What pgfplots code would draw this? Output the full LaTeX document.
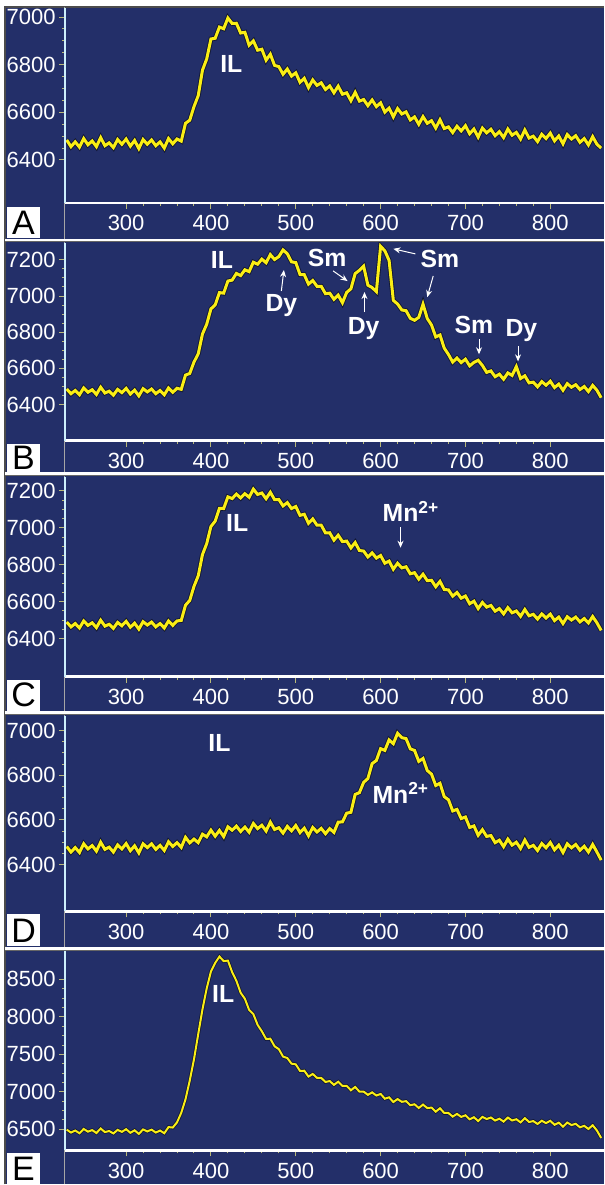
\documentclass[border=0pt]{standalone}
\usepackage{fontspec}
\setmainfont{Liberation Sans}
\usepackage{pgfplots}
\usepackage{pgfplotstable}
\pgfplotsset{compat=1.18}
\usetikzlibrary{arrows.meta}

\definecolor{navy}{RGB}{35,47,105}
\definecolor{trace}{RGB}{250,238,20}
\definecolor{tickcol}{RGB}{185,185,120}

% spectra, 5 nm steps
\pgfplotstableread[row sep=\\]{x y\\
230 6484\\ 235 6456\\ 240 6476\\ 245 6454\\ 250 6490\\ 255 6464\\ 260 6480\\ 265 6456\\ 270 6494\\ 275 6460\\
280 6472\\ 285 6452\\ 290 6486\\ 295 6466\\ 300 6488\\ 305 6458\\ 310 6482\\ 315 6448\\ 320 6486\\ 325 6466\\
330 6484\\ 335 6460\\ 340 6476\\ 345 6450\\ 350 6490\\ 355 6468\\ 360 6488\\ 365 6479\\ 370 6554\\ 375 6567\\
380 6624\\ 385 6670\\ 390 6777\\ 395 6824\\ 400 6908\\ 405 6911\\ 410 6958\\ 415 6951\\ 420 6996\\ 425 6973\\
430 6974\\ 435 6933\\ 440 6936\\ 445 6882\\ 450 6900\\ 455 6861\\ 460 6865\\ 465 6819\\ 470 6844\\ 475 6797\\
480 6792\\ 485 6760\\ 490 6782\\ 495 6752\\ 500 6766\\ 505 6726\\ 510 6743\\ 515 6704\\ 520 6736\\ 525 6713\\
530 6724\\ 535 6696\\ 540 6711\\ 545 6682\\ 550 6710\\ 555 6676\\ 560 6682\\ 565 6649\\ 570 6684\\ 575 6647\\
580 6654\\ 585 6628\\ 590 6652\\ 595 6624\\ 600 6640\\ 605 6601\\ 610 6618\\ 615 6581\\ 620 6616\\ 625 6593\\
630 6602\\ 635 6568\\ 640 6581\\ 645 6550\\ 650 6582\\ 655 6554\\ 660 6565\\ 665 6534\\ 670 6569\\ 675 6532\\
680 6539\\ 685 6515\\ 690 6542\\ 695 6522\\ 700 6544\\ 705 6510\\ 710 6530\\ 715 6496\\ 720 6534\\ 725 6514\\
730 6529\\ 735 6502\\ 740 6519\\ 745 6494\\ 750 6530\\ 755 6504\\ 760 6516\\ 765 6488\\ 770 6526\\ 775 6492\\
780 6500\\ 785 6477\\ 790 6508\\ 795 6490\\ 800 6513\\ 805 6480\\ 810 6501\\ 815 6468\\ 820 6507\\ 825 6488\\
830 6502\\ 835 6474\\ 840 6490\\ 845 6463\\ 850 6498\\ 855 6466\\ 860 6450\\
}\tabA

\pgfplotstableread[row sep=\\]{x y\\
230 6486\\ 235 6460\\ 240 6478\\ 245 6454\\ 250 6492\\ 255 6468\\ 260 6482\\ 265 6456\\ 270 6496\\ 275 6464\\
280 6474\\ 285 6452\\ 290 6484\\ 295 6466\\ 300 6490\\ 305 6458\\ 310 6480\\ 315 6448\\ 320 6488\\ 325 6470\\
330 6486\\ 335 6460\\ 340 6478\\ 345 6454\\ 350 6492\\ 355 6468\\ 360 6490\\ 365 6484\\ 370 6563\\ 375 6572\\
380 6635\\ 385 6680\\ 390 6790\\ 395 6844\\ 400 6929\\ 405 6951\\ 410 7019\\ 415 7016\\ 420 7083\\ 425 7088\\
430 7125\\ 435 7113\\ 440 7145\\ 445 7135\\ 450 7187\\ 455 7176\\ 460 7204\\ 465 7184\\ 470 7229\\ 475 7202\\
480 7218\\ 485 7255\\ 490 7234\\ 495 7189\\ 500 7185\\ 505 7119\\ 510 7118\\ 515 7066\\ 520 7086\\ 525 7054\\
530 7054\\ 535 7013\\ 540 7016\\ 545 6982\\ 550 7005\\ 555 6963\\ 560 7020\\ 565 7040\\ 570 7124\\ 575 7142\\
580 7165\\ 585 7060\\ 590 7047\\ 595 7024\\ 600 7275\\ 605 7250\\ 610 7197\\ 615 6976\\ 620 6956\\ 625 6923\\
630 6919\\ 635 6877\\ 640 6866\\ 645 6882\\ 650 6955\\ 655 6876\\ 660 6840\\ 665 6774\\ 670 6785\\ 675 6712\\
680 6677\\ 685 6635\\ 690 6657\\ 695 6632\\ 700 6651\\ 705 6614\\ 710 6633\\ 715 6645\\ 720 6616\\ 725 6578\\
730 6586\\ 735 6554\\ 740 6568\\ 745 6540\\ 750 6575\\ 755 6561\\ 760 6610\\ 765 6544\\ 770 6559\\ 775 6520\\
780 6524\\ 785 6498\\ 790 6527\\ 795 6507\\ 800 6529\\ 805 6494\\ 810 6513\\ 815 6479\\ 820 6516\\ 825 6496\\
830 6510\\ 835 6483\\ 840 6500\\ 845 6472\\ 850 6506\\ 855 6479\\ 860 6438\\
}\tabB

\pgfplotstableread[row sep=\\]{x y\\
230 6490\\ 235 6464\\ 240 6482\\ 245 6458\\ 250 6496\\ 255 6472\\ 260 6486\\ 265 6460\\ 270 6500\\ 275 6468\\
280 6478\\ 285 6456\\ 290 6488\\ 295 6470\\ 300 6494\\ 305 6462\\ 310 6484\\ 315 6452\\ 320 6492\\ 325 6474\\
330 6490\\ 335 6464\\ 340 6482\\ 345 6458\\ 350 6496\\ 355 6472\\ 360 6496\\ 365 6499\\ 370 6581\\ 375 6607\\
380 6683\\ 385 6740\\ 390 6855\\ 395 6914\\ 400 7007\\ 405 7036\\ 410 7105\\ 415 7104\\ 420 7167\\ 425 7158\\
430 7182\\ 435 7161\\ 440 7184\\ 445 7165\\ 450 7209\\ 455 7180\\ 460 7188\\ 465 7157\\ 470 7192\\ 475 7152\\
480 7153\\ 485 7118\\ 490 7136\\ 495 7104\\ 500 7115\\ 505 7067\\ 510 7073\\ 515 7024\\ 520 7048\\ 525 7014\\
530 7014\\ 535 6972\\ 540 6973\\ 545 6933\\ 550 6960\\ 555 6925\\ 560 6928\\ 565 6891\\ 570 6920\\ 575 6877\\
580 6874\\ 585 6842\\ 590 6864\\ 595 6836\\ 600 6850\\ 605 6808\\ 610 6820\\ 615 6776\\ 620 6808\\ 625 6783\\
630 6789\\ 635 6751\\ 640 6757\\ 645 6722\\ 650 6749\\ 655 6714\\ 660 6716\\ 665 6681\\ 670 6710\\ 675 6666\\
680 6664\\ 685 6630\\ 690 6650\\ 695 6619\\ 700 6631\\ 705 6589\\ 710 6603\\ 715 6563\\ 720 6596\\ 725 6571\\
730 6580\\ 735 6549\\ 740 6563\\ 745 6534\\ 750 6568\\ 755 6540\\ 760 6550\\ 765 6521\\ 770 6558\\ 775 6524\\
780 6532\\ 785 6506\\ 790 6534\\ 795 6512\\ 800 6533\\ 805 6498\\ 810 6517\\ 815 6482\\ 820 6519\\ 825 6501\\
830 6517\\ 835 6491\\ 840 6509\\ 845 6485\\ 850 6520\\ 855 6486\\ 860 6445\\
}\tabC

\pgfplotstableread[row sep=\\]{x y\\
230 6481\\ 235 6456\\ 240 6476\\ 245 6454\\ 250 6493\\ 255 6470\\ 260 6485\\ 265 6460\\ 270 6500\\ 275 6468\\
280 6478\\ 285 6456\\ 290 6488\\ 295 6470\\ 300 6494\\ 305 6462\\ 310 6484\\ 315 6452\\ 320 6493\\ 325 6476\\
330 6493\\ 335 6468\\ 340 6486\\ 345 6463\\ 350 6502\\ 355 6481\\ 360 6498\\ 365 6477\\ 370 6522\\ 375 6497\\
380 6514\\ 385 6498\\ 390 6536\\ 395 6524\\ 400 6554\\ 405 6527\\ 410 6553\\ 415 6525\\ 420 6569\\ 425 6554\\
430 6572\\ 435 6548\\ 440 6568\\ 445 6545\\ 450 6584\\ 455 6561\\ 460 6576\\ 465 6550\\ 470 6590\\ 475 6557\\
480 6565\\ 485 6541\\ 490 6571\\ 495 6551\\ 500 6575\\ 505 6543\\ 510 6563\\ 515 6529\\ 520 6566\\ 525 6546\\
530 6562\\ 535 6538\\ 540 6561\\ 545 6544\\ 550 6590\\ 555 6591\\ 560 6630\\ 565 6634\\ 570 6714\\ 575 6722\\
580 6768\\ 585 6785\\ 590 6852\\ 595 6866\\ 600 6919\\ 605 6911\\ 610 6958\\ 615 6941\\ 620 6988\\ 625 6968\\
630 6964\\ 635 6918\\ 640 6911\\ 645 6862\\ 650 6875\\ 655 6821\\ 660 6805\\ 665 6754\\ 670 6764\\ 675 6704\\
680 6690\\ 685 6640\\ 690 6647\\ 695 6606\\ 700 6613\\ 705 6566\\ 710 6573\\ 715 6531\\ 720 6556\\ 725 6526\\
730 6530\\ 735 6498\\ 740 6509\\ 745 6480\\ 750 6514\\ 755 6487\\ 760 6500\\ 765 6472\\ 770 6510\\ 775 6477\\
780 6486\\ 785 6463\\ 790 6494\\ 795 6475\\ 800 6499\\ 805 6466\\ 810 6487\\ 815 6454\\ 820 6493\\ 825 6475\\
830 6490\\ 835 6464\\ 840 6482\\ 845 6456\\ 850 6490\\ 855 6456\\ 860 6420\\
}\tabD

\pgfplotstableread[row sep=\\]{x y\\
230 6496\\ 235 6457\\ 240 6484\\ 245 6448\\ 250 6505\\ 255 6469\\ 260 6490\\ 265 6451\\ 270 6511\\ 275 6463\\
280 6478\\ 285 6445\\ 290 6493\\ 295 6466\\ 300 6502\\ 305 6454\\ 310 6487\\ 315 6439\\ 320 6499\\ 325 6472\\
330 6496\\ 335 6457\\ 340 6484\\ 345 6448\\ 350 6530\\ 355 6524\\ 360 6593\\ 365 6720\\ 370 6900\\ 375 7150\\
380 7433\\ 385 7770\\ 390 8100\\ 395 8380\\ 400 8607\\ 405 8720\\ 410 8805\\ 415 8744\\ 420 8751\\ 425 8597\\
430 8481\\ 435 8322\\ 440 8242\\ 445 8093\\ 450 8037\\ 455 7894\\ 460 7808\\ 465 7706\\ 470 7709\\ 475 7608\\
480 7570\\ 485 7470\\ 490 7451\\ 495 7376\\ 500 7367\\ 505 7279\\ 510 7282\\ 515 7204\\ 520 7239\\ 525 7187\\
530 7186\\ 535 7132\\ 540 7144\\ 545 7093\\ 550 7135\\ 555 7079\\ 560 7080\\ 565 7021\\ 570 7066\\ 575 7003\\
580 7003\\ 585 6960\\ 590 6993\\ 595 6951\\ 600 6972\\ 605 6909\\ 610 6927\\ 615 6864\\ 620 6904\\ 625 6867\\
630 6876\\ 635 6822\\ 640 6834\\ 645 6785\\ 650 6830\\ 655 6784\\ 660 6790\\ 665 6736\\ 670 6781\\ 675 6718\\
680 6718\\ 685 6670\\ 690 6706\\ 695 6666\\ 700 6687\\ 705 6634\\ 710 6662\\ 715 6610\\ 720 6666\\ 725 6637\\
730 6658\\ 735 6617\\ 740 6642\\ 745 6603\\ 750 6657\\ 755 6618\\ 760 6635\\ 765 6593\\ 770 6649\\ 775 6598\\
780 6610\\ 785 6572\\ 790 6615\\ 795 6583\\ 800 6614\\ 805 6561\\ 810 6589\\ 815 6536\\ 820 6591\\ 825 6557\\
830 6574\\ 835 6527\\ 840 6547\\ 845 6505\\ 850 6555\\ 855 6484\\ 860 6385\\
}\tabE

\pgfplotsset{
  panel/.style={
    scale only axis, width=269.5pt, anchor=north west,
    xmin=228, xmax=863,
    axis background/.style={fill=navy},
    axis line style={draw=none},
    clip mode=individual,
    xtick={300,400,...,800}, minor x tick num=4, minor y tick num=3,
    tick align=outside, xtick pos=left, ytick pos=left,
    major tick length=3pt, minor tick length=1.5pt,
    every tick/.style={tickcol, line width=0.5pt},
    tick label style={white, font=\fontsize{11}{12}\selectfont},
    yticklabel style={xshift=1.8pt},
    xticklabel style={yshift=0.3pt},
    /pgf/number format/assume math mode=true,
    /pgf/number format/1000 sep={},
  },
  shade/.style={black, line width=2.4pt, opacity=0.5},
  spec/.style={trace, line width=1.5pt},
}
\tikzset{
  lab/.style={white, font=\fontsize{12.4}{13}\selectfont\bfseries, inner sep=0pt},
  arr/.style={white, line width=0.5pt, -{Stealth[length=3.5pt,width=3pt]}},
}
\newcommand{\panelframe}{%
  \draw[white, line width=1.3pt] (rel axis cs:0,0) -- (rel axis cs:1,0);
  \draw[white!80!cyan, line width=0.7pt] (rel axis cs:0,0) -- (rel axis cs:0,1);
}

\begin{document}
\begin{tikzpicture}
\begin{scope}[x=0.5pt, y=-0.5pt]
  \fill[white] (0,0) rectangle (604,1185);
  \useasboundingbox (0,0) rectangle (604,1185);
  \fill[navy] (5,7) rectangle (604,1185);
  \draw[black!70, line width=0.6pt] (5,1185) -- (5,7) -- (604,7);
  \draw[gray!70, line width=0.5pt] (64.5,7) -- (64.5,1185);
  \foreach \yy in {240,474,713,949} {
    \draw[white, line width=1.3pt] (5,\yy) -- (604,\yy);
    \draw[black!60, line width=0.4pt] (5,\yy+2) -- (604,\yy+2);
  }
  \foreach \ya/\yb/\L in {207/238/A, 444/472/B, 680/711/C, 915/947/D, 1154/1185/E} {
    \fill[white] (7,\ya) rectangle (40,\yb);
    \node[black, font=\fontsize{17}{17}\selectfont, inner sep=0pt] at (23.5,{(\ya+\yb)/2}) {\L};
  }
\end{scope}

% A
\begin{axis}[panel, at={(32.5pt,-4pt)}, height=97.5pt,
  ymin=6220, ymax=7038, ytick={6400,6600,6800,7000}]
  \addplot[shade] table {\tabA};
  \addplot[spec] table {\tabA};
  \panelframe
  \node[lab] at (axis cs:424,6803) {IL};
\end{axis}

% B
\begin{axis}[panel, at={(32.5pt,-121.5pt)}, height=99pt,
  ymin=6200, ymax=7294, ytick={6400,6600,6800,7000,7200}]
  \addplot[shade] table {\tabB};
  \addplot[spec] table {\tabB};
  \panelframe
  \node[lab] at (axis cs:413,7200) {IL};
  \node[lab] at (axis cs:483,6950) {Dy};
  \draw[arr] (axis cs:483,7028) -- (axis cs:486,7144);
  \node[lab] at (axis cs:537,7211) {Sm};
  \draw[arr] (axis cs:544,7139) -- (axis cs:561,7083);
  \node[lab] at (axis cs:580,6822) {Dy};
  \draw[arr] (axis cs:581,6911) -- (axis cs:581,7022);
  \node[lab] at (axis cs:670,7206) {Sm};
  \draw[arr] (axis cs:641,7233) -- (axis cs:615,7261);
  \draw[arr] (axis cs:662,7111) -- (axis cs:655,6994);
  \node[lab] at (axis cs:710,6839) {Sm};
  \draw[arr] (axis cs:716,6761) -- (axis cs:716,6678);
  \node[lab] at (axis cs:766,6811) {Dy};
  \draw[arr] (axis cs:762,6722) -- (axis cs:762,6639);
\end{axis}

% C
\begin{axis}[panel, at={(32.5pt,-238.5pt)}, height=100pt,
  ymin=6195, ymax=7276, ytick={6400,6600,6800,7000,7200}]
  \addplot[shade] table {\tabC};
  \addplot[spec] table {\tabC};
  \panelframe
  \node[lab] at (axis cs:431,7027) {IL};
  \node[lab, anchor=base west] at (axis cs:602,7032) {Mn\textsuperscript{2+}};
  \draw[arr] (axis cs:623.5,7005) -- (axis cs:623.5,6892);
\end{axis}

% D
\begin{axis}[panel, at={(32.5pt,-358pt)}, height=98pt,
  ymin=6190, ymax=7067, ytick={6400,6600,6800,7000}]
  \addplot[shade] table {\tabD};
  \addplot[spec] table {\tabD};
  \panelframe
  \node[lab] at (axis cs:410,6946) {IL};
  \node[lab, anchor=base west] at (axis cs:590,6673) {Mn\textsuperscript{2+}};
\end{axis}

% E
\begin{axis}[panel, at={(32.5pt,-476pt)}, height=99.5pt,
  ymin=6220, ymax=8873, ytick={6500,7000,...,8500}]
  \addplot[shade, line width=1.8pt] table {\tabE};
  \addplot[spec, line width=1pt] table {\tabE};
  \panelframe
  \node[lab] at (axis cs:414.5,8300) {IL};
\end{axis}
\end{tikzpicture}
\end{document}
